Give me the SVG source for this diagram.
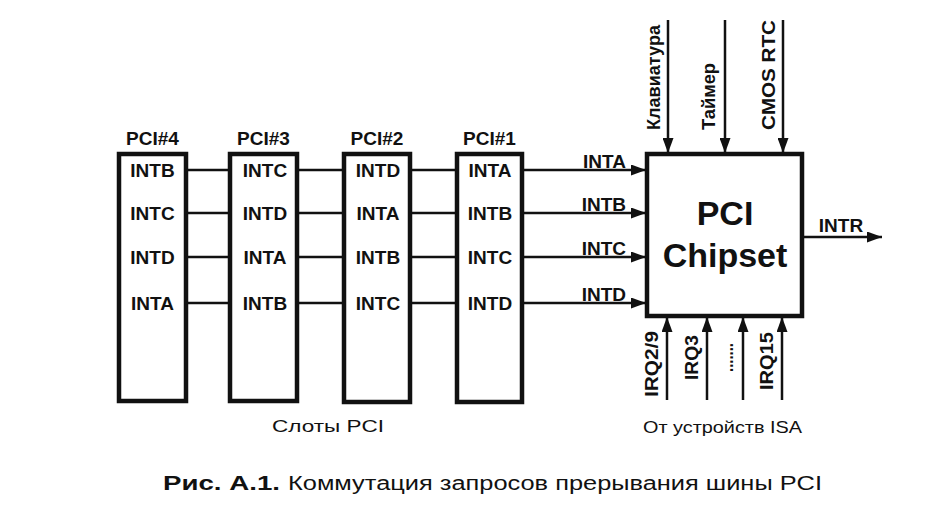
<svg xmlns="http://www.w3.org/2000/svg" width="948" height="508" viewBox="0 0 948 508">
<style>
.box{fill:#fff;stroke:#111;stroke-width:4.5}
.ln{stroke:#111;stroke-width:2.5;fill:none}
.t{font-family:"Liberation Sans",Arial,sans-serif;font-weight:bold;font-size:19px;fill:#111}
.tn{font-family:"Liberation Sans",Arial,sans-serif;font-size:17px;fill:#111}
.big{font-family:"Liberation Sans",Arial,sans-serif;font-weight:bold;font-size:34px;fill:#111}
</style>
<defs>
<marker id="arr" viewBox="0 0 15 11" refX="15" refY="5.5" markerWidth="15" markerHeight="11" orient="auto" markerUnits="userSpaceOnUse">
<path d="M0,0 L15,5.5 L0,11 z" fill="#111"/>
</marker>
</defs>
<rect width="948" height="508" fill="#fff"/>

<g id="connectors">
<line class="ln" x1="186" y1="170" x2="230" y2="170"/>
<line class="ln" x1="186" y1="213" x2="230" y2="213"/>
<line class="ln" x1="186" y1="257" x2="230" y2="257"/>
<line class="ln" x1="186" y1="303" x2="230" y2="303"/>
<line class="ln" x1="297" y1="170" x2="344" y2="170"/>
<line class="ln" x1="297" y1="213" x2="344" y2="213"/>
<line class="ln" x1="297" y1="257" x2="344" y2="257"/>
<line class="ln" x1="297" y1="303" x2="344" y2="303"/>
<line class="ln" x1="410" y1="170" x2="457" y2="170"/>
<line class="ln" x1="410" y1="213" x2="457" y2="213"/>
<line class="ln" x1="410" y1="257" x2="457" y2="257"/>
<line class="ln" x1="410" y1="303" x2="457" y2="303"/>
<line class="ln" x1="522" y1="170" x2="646" y2="170" marker-end="url(#arr)"/>
<line class="ln" x1="522" y1="213" x2="646" y2="213" marker-end="url(#arr)"/>
<line class="ln" x1="522" y1="257" x2="646" y2="257" marker-end="url(#arr)"/>
<line class="ln" x1="522" y1="303" x2="646" y2="303" marker-end="url(#arr)"/>
<line class="ln" x1="668" y1="20" x2="668" y2="153" marker-end="url(#arr)"/>
<line class="ln" x1="725" y1="20" x2="725" y2="153" marker-end="url(#arr)"/>
<line class="ln" x1="783" y1="20" x2="783" y2="153" marker-end="url(#arr)"/>
<line class="ln" x1="667" y1="400" x2="667" y2="317" marker-end="url(#arr)"/>
<line class="ln" x1="707" y1="400" x2="707" y2="317" marker-end="url(#arr)"/>
<line class="ln" x1="743" y1="400" x2="743" y2="317" marker-end="url(#arr)"/>
<line class="ln" x1="782" y1="400" x2="782" y2="317" marker-end="url(#arr)"/>
<line class="ln" x1="804" y1="237" x2="882" y2="237" marker-end="url(#arr)"/>
</g>

<g id="slot4">
<rect class="box" x="119" y="154" width="67" height="247"/>
<text class="t" x="152.5" y="145" text-anchor="middle">PCI#4</text>
<text class="t" x="152.5" y="177" text-anchor="middle">INTB</text>
<text class="t" x="152.5" y="220" text-anchor="middle">INTC</text>
<text class="t" x="152.5" y="264" text-anchor="middle">INTD</text>
<text class="t" x="152.5" y="310" text-anchor="middle">INTA</text>
</g>
<g id="slot3">
<rect class="box" x="230" y="154" width="67" height="247"/>
<text class="t" x="263.5" y="145" text-anchor="middle">PCI#3</text>
<text class="t" x="265" y="177" text-anchor="middle">INTC</text>
<text class="t" x="265" y="220" text-anchor="middle">INTD</text>
<text class="t" x="265" y="264" text-anchor="middle">INTA</text>
<text class="t" x="265" y="310" text-anchor="middle">INTB</text>
</g>
<g id="slot2">
<rect class="box" x="344" y="154" width="66" height="248"/>
<text class="t" x="377" y="145" text-anchor="middle">PCI#2</text>
<text class="t" x="378" y="177" text-anchor="middle">INTD</text>
<text class="t" x="378" y="220" text-anchor="middle">INTA</text>
<text class="t" x="378" y="264" text-anchor="middle">INTB</text>
<text class="t" x="378" y="310" text-anchor="middle">INTC</text>
</g>
<g id="slot1">
<rect class="box" x="457" y="154" width="65" height="248"/>
<text class="t" x="489.5" y="145" text-anchor="middle">PCI#1</text>
<text class="t" x="490" y="177" text-anchor="middle">INTA</text>
<text class="t" x="490" y="220" text-anchor="middle">INTB</text>
<text class="t" x="490" y="264" text-anchor="middle">INTC</text>
<text class="t" x="490" y="310" text-anchor="middle">INTD</text>
</g>

<g id="bus-labels">
<text class="t" x="626" y="168" text-anchor="end">INTA</text>
<text class="t" x="626" y="211" text-anchor="end">INTB</text>
<text class="t" x="626" y="255" text-anchor="end">INTC</text>
<text class="t" x="626" y="301" text-anchor="end">INTD</text>
</g>

<g id="chipset">
<rect class="box" x="647" y="154" width="155" height="162"/>
<text class="big" x="725" y="225" text-anchor="middle">PCI</text>
<text class="big" x="725" y="267" text-anchor="middle">Chipset</text>
</g>

<g id="top-inputs">
<text class="t" transform="translate(660,130) rotate(-90)" textLength="105" lengthAdjust="spacingAndGlyphs">Клавиатура</text>
<text class="t" transform="translate(715,130) rotate(-90)" textLength="67" lengthAdjust="spacingAndGlyphs">Таймер</text>
<text class="t" transform="translate(775,130) rotate(-90)" textLength="110" lengthAdjust="spacingAndGlyphs">CMOS RTC</text>
</g>

<g id="bottom-inputs">
<text class="t" transform="translate(658,397) rotate(-90)" textLength="66" lengthAdjust="spacingAndGlyphs">IRQ2/9</text>
<text class="t" transform="translate(698,380) rotate(-90)" textLength="45" lengthAdjust="spacingAndGlyphs">IRQ3</text>
<text class="t" transform="translate(733,372) rotate(-90)" textLength="29" lengthAdjust="spacingAndGlyphs">.......</text>
<text class="t" transform="translate(773,390) rotate(-90)" textLength="58" lengthAdjust="spacingAndGlyphs">IRQ15</text>
</g>

<g id="intr-label">
<text class="t" x="841" y="232" text-anchor="middle">INTR</text>
</g>

<g id="footer">
<text class="tn" x="272" y="432" textLength="112" lengthAdjust="spacingAndGlyphs">Слоты PCI</text>
<text class="tn" x="643" y="433" textLength="159" lengthAdjust="spacingAndGlyphs">От устройств ISA</text>
<text font-family="Liberation Sans, Arial, sans-serif" font-size="20" fill="#111" y="490"><tspan x="163" font-weight="bold" textLength="117" lengthAdjust="spacingAndGlyphs">Рис. А.1.</tspan><tspan x="288" textLength="534" lengthAdjust="spacingAndGlyphs">Коммутация запросов прерывания шины PCI</tspan></text>
</g>
</svg>
